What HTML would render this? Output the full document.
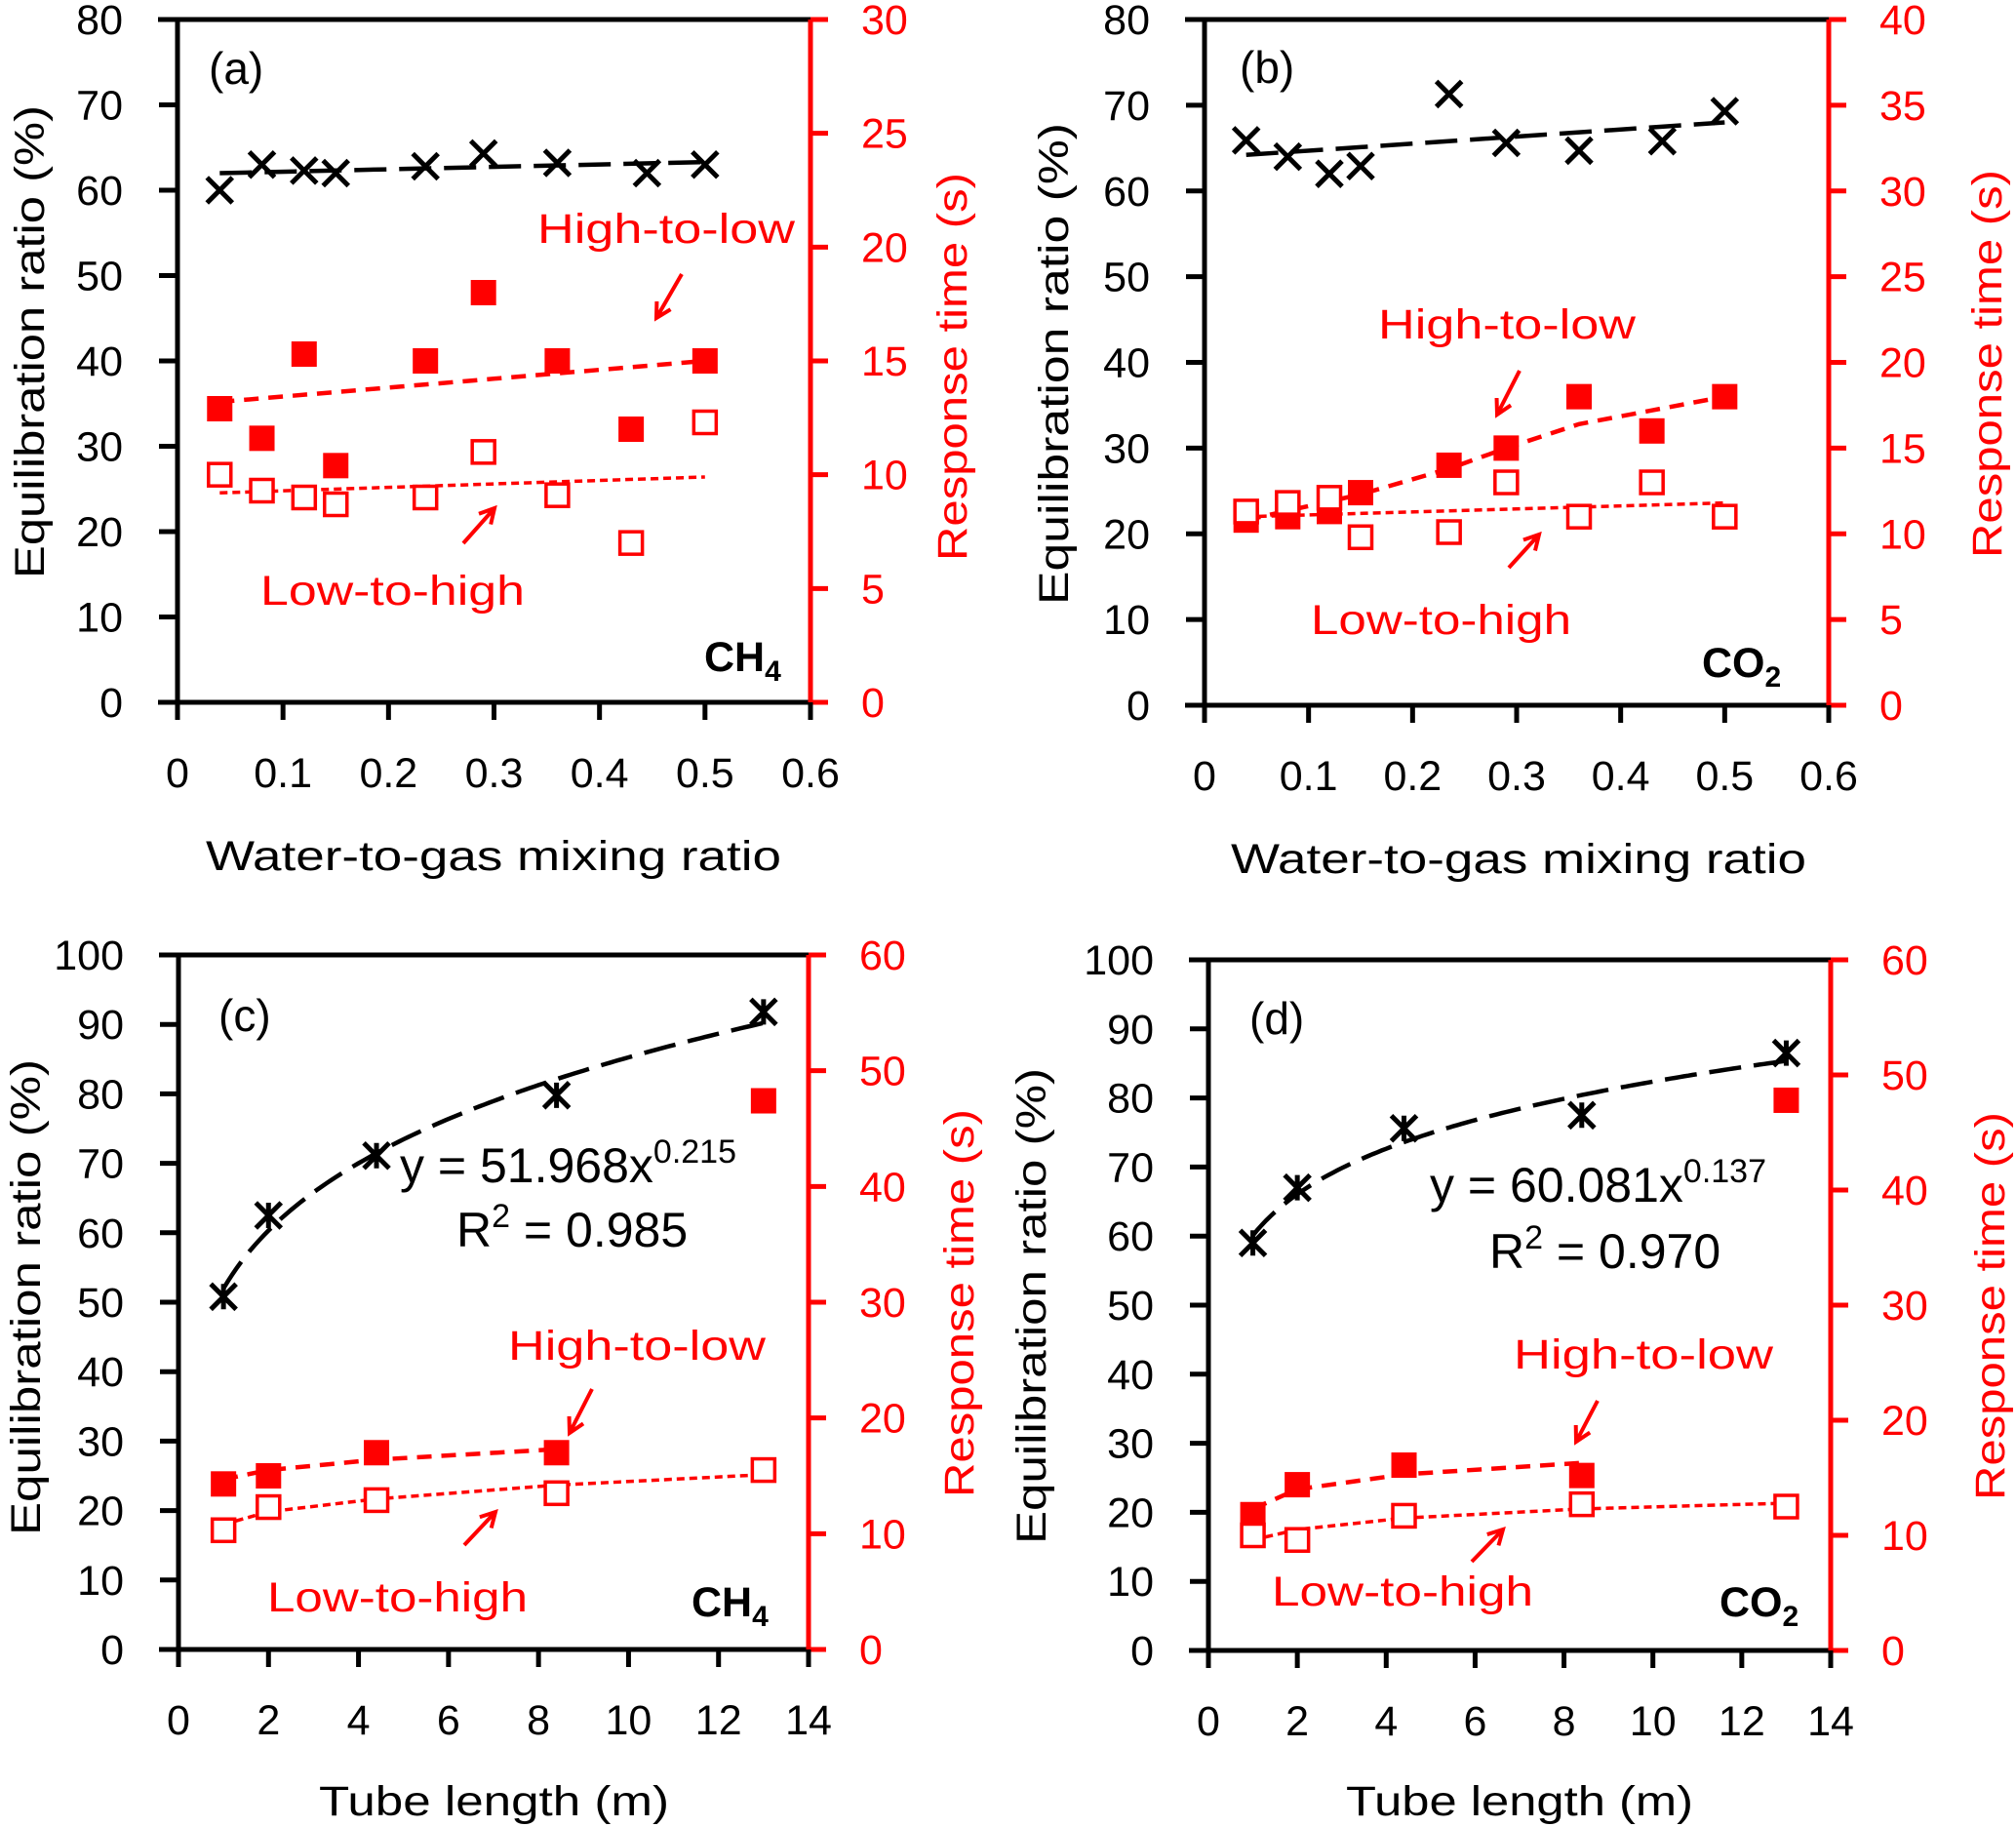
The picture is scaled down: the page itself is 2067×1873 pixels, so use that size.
<!DOCTYPE html>
<html><head><meta charset="utf-8"><style>
html,body{margin:0;padding:0;background:#fff;}
svg{display:block;font-family:"Liberation Sans",sans-serif;}
</style></head><body>
<svg id="chart" width="2067" height="1873" viewBox="0 0 2067 1873" xmlns="http://www.w3.org/2000/svg"></svg>
<script>
// ---- Panel (a) data ----
const aX = [0.04,0.08,0.12,0.15,0.235,0.29,0.36,0.445,0.5];
const aEq = [60,63,62.3,62,62.8,64.3,63.2,62,63];
const aHX = [0.04,0.08,0.12,0.15,0.235,0.29,0.36,0.43,0.5];
const aHigh = [12.9,11.6,15.3,10.4,15.0,18.0,15.0,12.0,15.0];
const aLow = [10.0,9.3,9.0,8.7,9.0,11.0,9.1,7.0,12.3];
const aEqFitX = [0.04,0.5], aEqFit = [62,63.3];
const aHighFitX = [0.04,0.5], aHighFit = [13.2,15.0];
const aLowFitX = [0.04,0.5], aLowFit = [9.2,9.9];
// ---- Panel (b) data ----
const bX = [0.04,0.08,0.12,0.15,0.235,0.29,0.36,0.44,0.5];
const bEq = [65.9,64,62,62.9,71.3,65.6,64.7,65.8,69.3];
const bHX = [0.04,0.08,0.12,0.15,0.235,0.29,0.36,0.43,0.5];
const bHigh = [10.8,11.0,11.3,12.4,14.0,15.0,18.0,16.0,18.0];
const bLow = [11.3,11.8,12.1,9.8,10.1,13.0,11.0,13.0,11.0];
const bEqFitX = [0.04,0.5], bEqFit = [64.2,68];
const bHighFitX = [0.04,0.15,0.235,0.29,0.36,0.43,0.5], bHighFit = [10.8,12.3,13.8,15.0,16.4,17.2,18.0];
const bLowFitX = [0.04,0.5], bLowFit = [11.0,11.8];
// ---- Panel (c) data ----
const cX = [1,2,4.4,8.4,13];
const cEq = [50.8,62.5,71.1,79.8,91.8];
const cHigh = [14.3,15.0,17.0,17.0,47.4];
const cLow = [10.3,12.3,12.9,13.5,15.5];
const cPow = [51.968,0.215];
const cHighFitX = [1,2,4.4,8.4], cHighFit = [14.7,15.5,16.4,17.3];
const cLowFitX = [1,2,4.4,8.4,13], cLowFit = [10.8,11.9,13.0,14.2,15.1];
// ---- Panel (d) data ----
const dX = [1,2,4.4,8.4,13];
const dEq = [59,67,75.6,77.5,86.5];
const dHigh = [11.8,14.4,16.1,15.2,47.8];
const dLow = [10.0,9.6,11.7,12.7,12.5];
const dPow = [60.081,0.137];
const dHighFitX = [1,2,4.4,8.4], dHighFit = [12.3,14.0,15.3,16.3];
const dLowFitX = [1,2,4.4,8.4,13], dLowFit = [9.6,10.5,11.5,12.3,12.8];
// ---- ticks ----
const xTicksMix = ['0','0.1','0.2','0.3','0.4','0.5','0.6'];
const xTicksTube = ['0','2','4','6','8','10','12','14'];
const yTicks80 = ['0','10','20','30','40','50','60','70','80'];
const yTicks100 = ['0','10','20','30','40','50','60','70','80','90','100'];
const rTicks30 = ['0','5','10','15','20','25','30'];
const rTicks40 = ['0','5','10','15','20','25','30','35','40'];
const rTicks60 = ['0','10','20','30','40','50','60'];

const NS='http://www.w3.org/2000/svg';
const svg=document.getElementById('chart');
function mk(tag,attrs,parent){const e=document.createElementNS(NS,tag);for(const k in attrs)e.setAttribute(k,attrs[k]);(parent||svg).appendChild(e);return e;}
const RED='#ff0000';

function panel(p){
  const g=mk('g',{});
  
  
  const xmax=+p.xt[p.xt.length-1], ymax=+p.yt[p.yt.length-1], rmax=+p.rt[p.rt.length-1];
  const sx=v=>p.L+(v/xmax)*(p.R-p.L);
  const sy=v=>p.B-(v/ymax)*(p.B-p.T);
  const sr=v=>p.B-(v/rmax)*(p.B-p.T);
  // axes
  const ax=mk('path',{d:`M${p.L-20},${p.T}H${p.R}M${p.L},${p.T}V${p.B}M${p.L-20},${p.B}H${p.R}`,stroke:'#000','stroke-width':5,fill:'none'},g);
  
  
  const rax=mk('line',{x1:p.R,y1:p.T,x2:p.R,y2:p.B,stroke:RED,'stroke-width':5},g);
  
  
  p.yt.forEach(t=>{const y=sy(+t);
    mk('line',{x1:p.L-19,y1:y,x2:p.L,y2:y,stroke:'#000','stroke-width':5},g);
    const tx=mk('text',{x:p.L-56,y:y+15,'font-size':43,'text-anchor':'end',fill:'#000'},g);tx.textContent=t;
    
    
  });
  p.rt.forEach(t=>{const y=sr(+t);
    mk('line',{x1:p.R,y1:y,x2:p.R+18,y2:y,stroke:RED,'stroke-width':5},g);
    const tx=mk('text',{x:p.R+52,y:y+15,'font-size':43,'text-anchor':'start',fill:RED},g);tx.textContent=t;
    
    
  });
  p.xt.forEach(t=>{const x=sx(+t);
    mk('line',{x1:x,y1:p.B,x2:x,y2:p.B+18,stroke:'#000','stroke-width':5},g);
    const tx=mk('text',{x:x,y:p.B+87,'font-size':43,'text-anchor':'middle',fill:'#000'},g);tx.textContent=t;
    
    
  });
  // titles
  let t=mk('text',{x:(p.xtl[0]+p.xtl[1])/2,y:p.xty+15,'font-size':43,'text-anchor':'middle',textLength:p.xtl[1]-p.xtl[0],lengthAdjust:'spacingAndGlyphs'},g);
  t.textContent=p.xtitle;
  t=mk('text',{x:0,y:0,'font-size':43,'text-anchor':'middle',textLength:p.ytl[1]-p.ytl[0],lengthAdjust:'spacingAndGlyphs',transform:`translate(${p.ytx+15},${(p.ytl[0]+p.ytl[1])/2}) rotate(-90)`},g);
  t.textContent='Equilibration ratio (%)';
  t=mk('text',{x:0,y:0,'font-size':43,'text-anchor':'middle',fill:RED,textLength:p.rtl[1]-p.rtl[0],lengthAdjust:'spacingAndGlyphs',transform:`translate(${p.rtx+15},${(p.rtl[0]+p.rtl[1])/2}) rotate(-90)`},g);
  t.textContent='Response time (s)';
  // fit lines
  const path=(xs,ys,sc)=>xs.map((x,i)=>(i?'L':'M')+sx(x).toFixed(1)+','+sc(ys[i]).toFixed(1)).join('');
  let eqd;
  if(p.pow){const pts=[];for(let x=p.ex[0];x<=p.ex[p.ex.length-1]+1e-9;x+=0.1)pts.push(x);eqd=pts.map((x,i)=>(i?'L':'M')+sx(x).toFixed(1)+','+sy(p.pow[0]*Math.pow(x,p.pow[1])).toFixed(1)).join('');}
  else eqd=path(p.eqFitX,p.eqFit,sy);
  let l=mk('path',{d:eqd,stroke:'#000','stroke-width':4.5,fill:'none','stroke-dasharray':'33 13'},g);
  
  l=mk('path',{d:path(p.hfX,p.hf,sr),stroke:RED,'stroke-width':4.5,fill:'none','stroke-dasharray':'15 10'},g);
  
  l=mk('path',{d:path(p.lfX,p.lf,sr),stroke:RED,'stroke-width':3.5,fill:'none','stroke-dasharray':'8 5'},g);
  
  // markers
  p.ex.forEach((x,i)=>{const cx=sx(x),cy=sy(p.eq[i]),s=13;
    let d=`M${cx-s},${cy-s}L${cx+s},${cy+s}M${cx-s},${cy+s}L${cx+s},${cy-s}`;
    if(p.star)d+=`M${cx},${cy-s}V${cy+s}`;
    const m=mk('path',{d:d,stroke:'#000','stroke-width':5,fill:'none'},g);
    
  });
  p.hx.forEach((x,i)=>{const m=mk('rect',{x:sx(x)-13,y:sr(p.high[i])-13,width:26,height:26,fill:RED},g);
    });
  p.hx.forEach((x,i)=>{const m=mk('rect',{x:sx(x)-11.5,y:sr(p.low[i])-11.5,width:23,height:23,fill:'#fff',stroke:RED,'stroke-width':3.5},g);
    });
  // annotations
  t=mk('text',{x:p.lab[0],y:p.lab[1]+16,'font-size':46},g);t.textContent='('+p.id+')';
  
  t=mk('text',{x:p.hi[0],y:p.hi[1]+15,'font-size':43,fill:RED,textLength:p.hi[2]-p.hi[0],lengthAdjust:'spacingAndGlyphs'},g);t.textContent='High-to-low';
  
  t=mk('text',{x:p.lo[0],y:p.lo[1]+15,'font-size':43,fill:RED,textLength:p.lo[2]-p.lo[0],lengthAdjust:'spacingAndGlyphs'},g);t.textContent='Low-to-high';
  
  [p.ha,p.la].forEach((a,k)=>{const [x1,y1,x2,y2]=a;const ang=Math.atan2(y2-y1,x2-x1),h=17;
    const d=`M${x1},${y1}L${x2},${y2}M${x2-h*Math.cos(ang-0.5)},${y2-h*Math.sin(ang-0.5)}L${x2},${y2}L${x2-h*Math.cos(ang+0.5)},${y2-h*Math.sin(ang+0.5)}`;
    const ar=mk('path',{d:d,stroke:RED,'stroke-width':4,fill:'none'},g);
    });
  t=mk('text',{x:p.gas[0],y:p.gas[1]+14,'font-size':43,'font-weight':'bold'},g);
  
  t.appendChild(document.createTextNode(p.gasName));
  const sub=mk('tspan',{'font-size':30,dy:10},t);sub.textContent=p.gasSub;
  if(p.eqText){
    t=mk('text',{x:p.eqText[0],y:p.eqText[1],'font-size':50},g);
    
    t.appendChild(document.createTextNode('y = '+p.pow[0].toFixed(3)+'x'));
    const sp=mk('tspan',{'font-size':34,dy:-20},t);sp.textContent=p.pow[1].toFixed(3);
    t=mk('text',{x:p.r2[0],y:p.r2[1],'font-size':50},g);
    
    t.appendChild(document.createTextNode('R'));
    const s2=mk('tspan',{'font-size':34,dy:-20},t);s2.textContent='2';
    const s3=mk('tspan',{dy:20},t);s3.textContent=' = '+p.r2v;
  }
}

panel({id:'a',L:182,R:831,T:20,B:720,xt:xTicksMix,yt:yTicks80,rt:rTicks30,
  xtitle:'Water-to-gas  mixing ratio',xtl:[211,801],xty:877,ytl:[108,593],ytx:30,rtl:[177,575],rtx:976,
  ex:aX,eq:aEq,hx:aHX,high:aHigh,low:aLow,eqFitX:aEqFitX,eqFit:aEqFit,hfX:aHighFitX,hf:aHighFit,lfX:aLowFitX,lf:aLowFit,
  lab:[214,70],hi:[551,234,815],lo:[267,605,538],ha:[699,281,673,326],la:[475,557,507,521],gas:[722,674],gasName:'CH',gasSub:'4'});
panel({id:'b',L:1235,R:1875,T:20,B:723,xt:xTicksMix,yt:yTicks80,rt:rTicks40,
  xtitle:'Water-to-gas  mixing ratio',xtl:[1262,1852],xty:880,ytl:[126,620],ytx:1080,rtl:[174,572],rtx:2037,
  ex:bX,eq:bEq,hx:bHX,high:bHigh,low:bLow,eqFitX:bEqFitX,eqFit:bEqFit,hfX:bHighFitX,hf:bHighFit,lfX:bLowFitX,lf:bLowFit,
  lab:[1271,69],hi:[1413,332,1677],lo:[1344,635,1611],ha:[1558,380,1535,425],la:[1547,582,1578,548],gas:[1745,680],gasName:'CO',gasSub:'2'});
panel({id:'c',L:183,R:829,T:979,B:1691,xt:xTicksTube,yt:yTicks100,rt:rTicks60,
  xtitle:'Tube length (m)',xtl:[327,686],xty:1846,ytl:[1086,1574],ytx:26,rtl:[1137,1535],rtx:983,
  ex:cX,eq:cEq,hx:cX,high:cHigh,low:cLow,pow:cPow,star:true,hfX:cHighFitX,hf:cHighFit,lfX:cLowFitX,lf:cLowFit,
  lab:[224,1041],hi:[521,1379,785],lo:[274,1637,541],ha:[607,1424,584,1469],la:[476,1584,508,1550],gas:[709,1643],gasName:'CH',gasSub:'4',
  eqText:[410,1212],r2:[468,1278],r2v:'0.985'});
panel({id:'d',L:1239,R:1877,T:984,B:1692,xt:xTicksTube,yt:yTicks100,rt:rTicks60,
  xtitle:'Tube length (m)',xtl:[1380,1736],xty:1846,ytl:[1095,1583],ytx:1057,rtl:[1140,1538],rtx:2040,
  ex:dX,eq:dEq,hx:dX,high:dHigh,low:dLow,pow:dPow,star:true,hfX:dHighFitX,hf:dHighFit,lfX:dLowFitX,lf:dLowFit,
  lab:[1281,1044],hi:[1552,1388,1818],lo:[1304,1631,1572],ha:[1638,1436,1616,1478],la:[1509,1601,1541,1568],gas:[1763,1643],gasName:'CO',gasSub:'2',
  eqText:[1466,1232],r2:[1527,1300],r2v:'0.970'});
</script>
</body></html>
